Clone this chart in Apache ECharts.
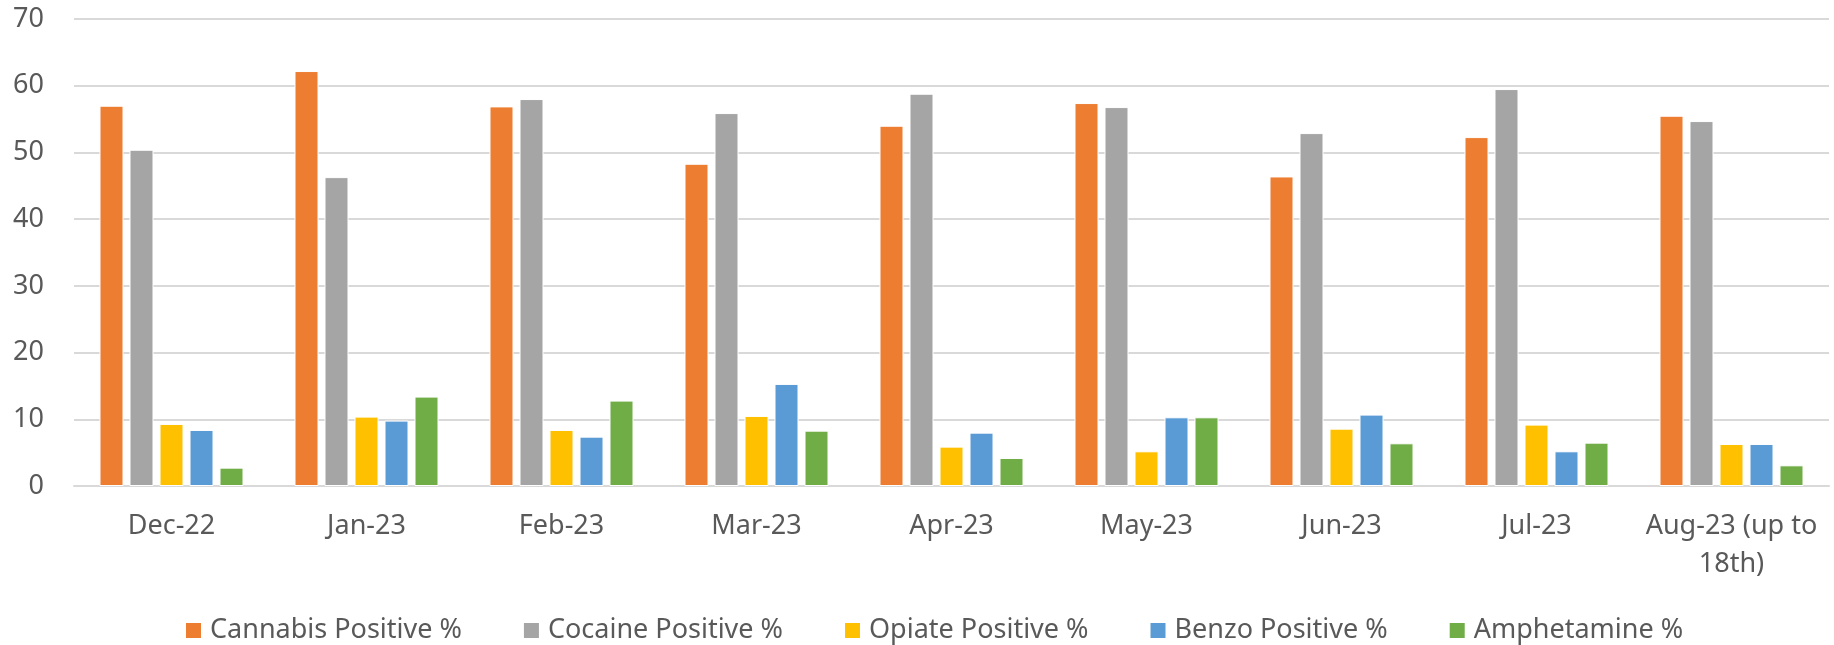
<!DOCTYPE html>
<html>
<head>
<meta charset="utf-8">
<script src="https://cdn.jsdelivr.net/npm/echarts@6/dist/echarts.min.js"></script>
<style>
  html, body { margin: 0; padding: 0; background: #fff; }
  #main { width: 1834px; height: 645px; }
</style>
</head>
<body>
<div id="main"></div>
<script>
var months = ['Dec-22', 'Jan-23', 'Feb-23', 'Mar-23', 'Apr-23', 'May-23', 'Jun-23', 'Jul-23', 'Aug-23 (up to\n18th)'];
var cannabis = [57.0, 62.2, 56.9, 48.3, 54.0, 57.4, 46.4, 52.3, 55.5];
var cocaine = [50.4, 46.3, 58.0, 55.9, 58.8, 56.8, 52.9, 59.5, 54.7];
var opiate = [9.3, 10.4, 8.4, 10.5, 5.9, 5.2, 8.6, 9.2, 6.3];
var benzo = [8.4, 9.8, 7.4, 15.3, 8.0, 10.3, 10.7, 5.2, 6.3];
var amphetamine = [2.75, 13.4, 12.8, 8.3, 4.2, 10.3, 6.4, 6.5, 3.1];

var seriesNames = ['Cannabis Positive %', 'Cocaine Positive %', 'Opiate Positive %', 'Benzo Positive %', 'Amphetamine %'];
var seriesData = [cannabis, cocaine, opiate, benzo, amphetamine];
var colors = ['#ED7D31', '#A5A5A5', '#FFC000', '#5B9BD5', '#70AD47'];

var textColor = '#595959';
var fontFamily = '"Noto Sans", sans-serif';

var myChart = echarts.init(document.getElementById('main'));
myChart.setOption({
  animation: false,
  color: colors,
  textStyle: { fontFamily: fontFamily },
  grid: { left: 74, right: 5, top: 19, bottom: 159 },
  legend: {
    bottom: -4,
    left: 179,
    itemWidth: 17,
    itemHeight: 17,
    itemGap: 60,
    icon: 'rect',
    textStyle: { color: textColor, fontSize: 27, fontFamily: fontFamily, padding: [0, 0, 0, 3] },
    data: seriesNames
  },
  xAxis: {
    type: 'category',
    data: months,
    axisLine: { lineStyle: { color: '#d9d9d9', width: 2 } },
    axisTick: { show: false },
    axisLabel: { color: textColor, fontSize: 27, margin: 21, lineHeight: 38, interval: 0 }
  },
  yAxis: {
    type: 'value',
    min: 0,
    max: 70,
    interval: 10,
    axisLine: { show: false },
    axisTick: { show: false },
    axisLabel: { color: textColor, fontSize: 27, margin: 30 },
    splitLine: { lineStyle: { color: '#d9d9d9', width: 2 } }
  },
  series: seriesNames.map(function (name, i) {
    return {
      name: name,
      type: 'bar',
      data: seriesData[i],
      barWidth: 24,
      barGap: '25%',
      itemStyle: { borderColor: '#fff', borderWidth: 1 }
    };
  })
});
</script>
</body>
</html>
